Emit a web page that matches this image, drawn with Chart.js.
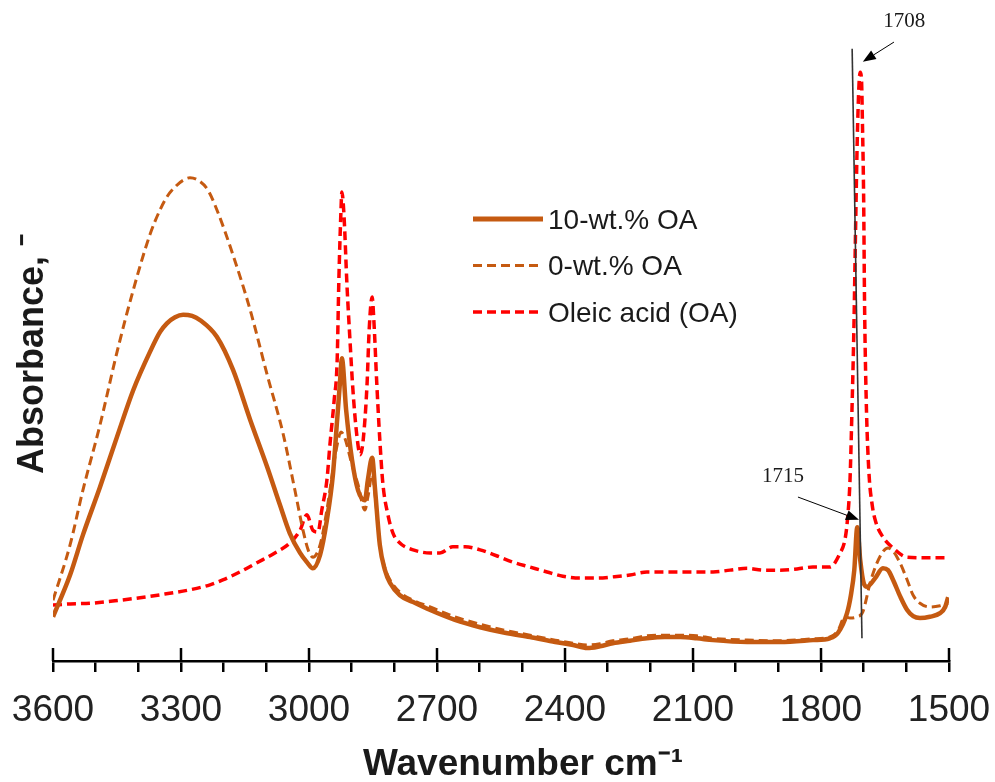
<!DOCTYPE html>
<html>
<head>
<meta charset="utf-8">
<script src="https://cdn.jsdelivr.net/npm/chart.js@4.4.1/dist/chart.umd.min.js"></script>
<style>
  html, body { margin: 0; padding: 0; background: #fff; }
  #wrap { width: 995px; height: 782px; }
</style>
</head>
<body>
<div id="wrap"><canvas id="c" width="995" height="782"></canvas></div>
<script>
// FTIR spectra: absorbance (arbitrary units) against wavenumber (cm^-1)
const seriesLabels = ['10-wt.% OA', '0-wt.% OA', 'Oleic acid (OA)'];
const xTickLabels = [3600, 3300, 3000, 2700, 2400, 2100, 1800, 1500];

// 10-wt.% OA
const wn10 = [3600,3560,3530,3490,3450,3412,3373,3349,3333,3314,3295,3274,3255,3216,3178,3138,3098,3068,3045,3021,3005,2991,
  2974,2958,2944,2934,2927,2923,2913,2899,2885,2869,2862,2852,2845,2834,2822,2810,2787,2756,2716,2658,2599,2541,2482,2423,
  2381,2348,2318,2288,2248,2208,2166,2130,2091,2053,1973,1896,1819,1779,1760,1739,1730,1722,1715,1708,1700,1692,1673,1655,
  1643,1631,1615,1598,1584,1568,1545,1521,1509,1502];
const abs10 = [0.072,0.140,0.205,0.283,0.365,0.441,0.503,0.536,0.550,0.560,0.564,0.562,0.555,0.528,0.474,0.393,0.316,0.254,0.208,0.176,0.161,0.151,
  0.173,0.230,0.303,0.393,0.458,0.493,0.409,0.327,0.278,0.262,0.295,0.331,0.278,0.189,0.148,0.127,0.107,0.096,0.083,0.067,0.055,0.046,0.039,0.031,
  0.026,0.021,0.024,0.029,0.033,0.037,0.039,0.039,0.037,0.034,0.031,0.031,0.034,0.037,0.046,0.078,0.107,0.148,0.218,0.164,0.127,0.121,0.135,0.151,
  0.148,0.132,0.106,0.083,0.073,0.070,0.072,0.078,0.088,0.104];

// 0-wt.% OA
const wn0 = [3600,3560,3530,3490,3450,3412,3373,3349,3333,3314,3295,3279,3260,3237,3216,3178,3138,3098,3061,3033,3014,3002,2991,
  2974,2958,2944,2934,2925,2916,2899,2885,2869,2862,2852,2845,2834,2822,2810,2787,2756,2716,2658,2599,2541,2482,2423,2381,
  2348,2318,2288,2248,2208,2166,2130,2091,2053,1973,1896,1819,1779,1760,1744,1732,1716,1702,1685,1671,1655,1643,1631,1615,
  1598,1584,1568,1545,1521,1502];
const abs0 = [0.099,0.189,0.278,0.384,0.503,0.604,0.694,0.735,0.756,0.772,0.783,0.787,0.783,0.767,0.735,0.661,0.572,0.466,0.371,0.278,0.213,0.181,0.169,
  0.189,0.246,0.311,0.352,0.373,0.363,0.319,0.287,0.246,0.267,0.303,0.270,0.189,0.151,0.132,0.112,0.099,0.088,0.072,0.060,0.050,0.042,0.034,0.029,
  0.026,0.028,0.033,0.036,0.041,0.042,0.042,0.041,0.037,0.034,0.033,0.036,0.039,0.050,0.072,0.070,0.072,0.080,0.127,0.156,0.178,0.184,0.179,0.160,
  0.132,0.107,0.094,0.088,0.090,0.094];

// Oleic acid (OA)
const wnOA = [3600,3560,3513,3455,3396,3338,3279,3232,3202,3162,3122,3080,3045,3021,3005,2991,2979,2970,2958,2951,2941,2934,2930,
  2925,2923,2918,2911,2904,2897,2888,2880,2873,2864,2859,2852,2848,2841,2834,2827,2815,2803,2787,2756,2716,2693,2663,2634,
  2599,2559,2522,2482,2442,2405,2365,2325,2288,2248,2208,2170,2130,2091,2053,2013,1973,1936,1896,1856,1819,1779,1755,1744,
  1738,1732,1728,1723,1719,1715,1711,1708,1705,1703,1700,1698,1694,1688,1680,1671,1655,1631,1598,1545,1502];
const absOA = [0.091,0.093,0.094,0.098,0.103,0.109,0.116,0.124,0.132,0.145,0.160,0.176,0.192,0.213,0.238,0.213,0.210,0.246,0.295,0.352,0.425,0.490,0.621,
  0.735,0.764,0.726,0.612,0.523,0.441,0.368,0.336,0.360,0.450,0.539,0.593,0.555,0.450,0.360,0.290,0.238,0.208,0.192,0.181,0.176,0.176,0.186,0.186,
  0.181,0.171,0.161,0.153,0.145,0.138,0.135,0.135,0.137,0.140,0.145,0.145,0.145,0.145,0.145,0.148,0.151,0.148,0.148,0.150,0.153,0.153,0.176,0.197,
  0.230,0.295,0.393,0.539,0.702,0.849,0.938,0.959,0.946,0.881,0.751,0.588,0.425,0.311,0.254,0.225,0.202,0.184,0.169,0.168,0.168];

const toPoints = (xs, ys) => xs.map((x, i) => ({ x: x, y: ys[i] }));

const BROWN = '#C55A11';
const RED = '#FF0000';
const TEXT = '#1a1a1a';
const SANS = "'Liberation Sans', Arial, sans-serif";
const SERIF = "'Liberation Serif', 'Times New Roman', serif";

// Major ticks cross the axis line: draw their upper half
const majorTickTops = {
  id: 'majorTickTops',
  afterDraw(chart) {
    const { ctx, chartArea, scales: { x } } = chart;
    ctx.save();
    ctx.strokeStyle = '#000';
    ctx.lineWidth = 2.5;
    xTickLabels.forEach(v => {
      const px = x.getPixelForValue(v);
      ctx.beginPath();
      ctx.moveTo(px, chartArea.bottom);
      ctx.lineTo(px, chartArea.bottom - 13);
      ctx.stroke();
    });
    ctx.restore();
  }
};

// Legend placed inside the plot, built from the datasets
const insideLegend = {
  id: 'insideLegend',
  afterDraw(chart, args, opts) {
    const { ctx } = chart;
    ctx.save();
    ctx.font = opts.font;
    ctx.fillStyle = TEXT;
    ctx.textBaseline = 'middle';
    ctx.textAlign = 'left';
    chart.data.datasets.forEach((ds, i) => {
      const y = opts.y + i * opts.rowGap;
      ctx.beginPath();
      ctx.strokeStyle = ds.borderColor;
      ctx.lineWidth = ds.borderWidth + (i === 0 ? 0.5 : 0);
      ctx.setLineDash(ds.borderDash || []);
      ctx.moveTo(opts.x, y);
      ctx.lineTo(opts.x + opts.lineLen, y);
      ctx.stroke();
      ctx.setLineDash([]);
      ctx.fillText(ds.label, opts.x + opts.lineLen + opts.textGap, y + 2);
    });
    ctx.restore();
  }
};

// Peak-position marker line and labelled arrows (in data coordinates)
function arrow(ctx, x0, y0, x1, y1) {
  const a = Math.atan2(y1 - y0, x1 - x0);
  const head = 13, half = 5;
  const bx = x1 - head * Math.cos(a), by = y1 - head * Math.sin(a);
  ctx.beginPath();
  ctx.moveTo(x0, y0);
  ctx.lineTo(bx, by);
  ctx.stroke();
  ctx.beginPath();
  ctx.moveTo(x1, y1);
  ctx.lineTo(bx + half * Math.sin(a), by - half * Math.cos(a));
  ctx.lineTo(bx - half * Math.sin(a), by + half * Math.cos(a));
  ctx.closePath();
  ctx.fill();
}
const peakMarks = {
  id: 'peakMarks',
  afterDraw(chart, args, opts) {
    const { ctx, scales: { x, y } } = chart;
    const P = p => [x.getPixelForValue(p[0]), y.getPixelForValue(p[1])];
    ctx.save();
    const [l0x, l0y] = P(opts.line[0]), [l1x, l1y] = P(opts.line[1]);
    ctx.strokeStyle = '#333';
    ctx.lineWidth = 1.6;
    ctx.beginPath();
    ctx.moveTo(l0x, l0y);
    ctx.lineTo(l1x, l1y);
    ctx.stroke();
    ctx.strokeStyle = '#000';
    ctx.lineWidth = 1;
    ctx.font = opts.font;
    ctx.textAlign = 'center';
    ctx.textBaseline = 'middle';
    opts.labels.forEach(l => {
      const [tx, ty] = P(l.text);
      ctx.fillStyle = TEXT;
      ctx.fillText(l.value, tx, ty);
      ctx.fillStyle = '#000';
      const [a0x, a0y] = P(l.from), [a1x, a1y] = P(l.to);
      arrow(ctx, a0x, a0y, a1x, a1y);
    });
    ctx.restore();
  }
};

// Horizontal axis caption
const xCaption = {
  id: 'xCaption',
  afterDraw(chart, args, opts) {
    const { ctx } = chart;
    ctx.save();
    ctx.font = opts.font;
    ctx.fillStyle = TEXT;
    ctx.textAlign = 'center';
    ctx.textBaseline = 'middle';
    ctx.fillText(opts.text, opts.x, opts.y);
    ctx.restore();
  }
};

new Chart(document.getElementById('c'), {
  type: 'line',
  data: {
    datasets: [
      { label: seriesLabels[0], data: toPoints(wn10, abs10), borderColor: BROWN, borderWidth: 4.5, pointRadius: 0, fill: false, cubicInterpolationMode: 'monotone' },
      { label: seriesLabels[1], data: toPoints(wn0, abs0), borderColor: BROWN, borderWidth: 3, borderDash: [9, 5], pointRadius: 0, fill: false, cubicInterpolationMode: 'monotone' },
      { label: seriesLabels[2], data: toPoints(wnOA, absOA), borderColor: RED, borderWidth: 3.5, borderDash: [9, 5], pointRadius: 0, fill: false, cubicInterpolationMode: 'monotone' }
    ]
  },
  options: {
    responsive: false,
    animation: false,
    devicePixelRatio: 1,
    layout: { padding: { top: 47, right: 46, bottom: 31.6, left: 0 } },
    plugins: {
      legend: { display: false },
      tooltip: { enabled: false },
      insideLegend: { x: 473, y: 219, rowGap: 46.5, lineLen: 70, textGap: 5, font: '28px ' + SANS },
      peakMarks: {
        font: '21px ' + SERIF,
        line: [[1727, 0.997], [1704, 0.037]],
        labels: [
          { value: '1708', text: [1605, 1.041], from: [1629, 1.008], to: [1702, 0.976] },
          { value: '1715', text: [1889, 0.301], from: [1854, 0.267], to: [1711, 0.230] }
        ]
      },
      xCaption: { text: 'Wavenumber cm\u207B\u00B9', x: 523, y: 765, font: 'bold 37px ' + SANS }
    },
    scales: {
      x: {
        type: 'linear',
        reverse: true,
        min: 1500,
        max: 3600,
        afterFit: s => { s.paddingLeft = 0; s.paddingRight = 0; },
        border: { display: true, color: '#000', width: 2.5 },
        grid: { display: true, drawOnChartArea: false, drawTicks: true, tickLength: 11, color: '#000', lineWidth: 2.5 },
        ticks: {
          stepSize: 100,
          autoSkip: false,
          maxRotation: 0,
          padding: 17,
          color: '#222',
          font: { family: SANS, size: 37 },
          callback: v => xTickLabels.includes(v) ? String(v) : ''
        }
      },
      y: {
        min: 0,
        max: 1,
        display: true,
        afterFit: s => { s.width = 53; },
        border: { display: false },
        grid: { display: false, drawTicks: false },
        ticks: { display: false },
        title: {
          display: true,
          text: 'Absorbance, \u207B',
          color: TEXT,
          font: { family: SANS, size: 36, weight: 'bold' },
          padding: { top: 11, bottom: 0 }
        }
      }
    }
  },
  plugins: [majorTickTops, insideLegend, peakMarks, xCaption]
});
</script>
</body>
</html>
